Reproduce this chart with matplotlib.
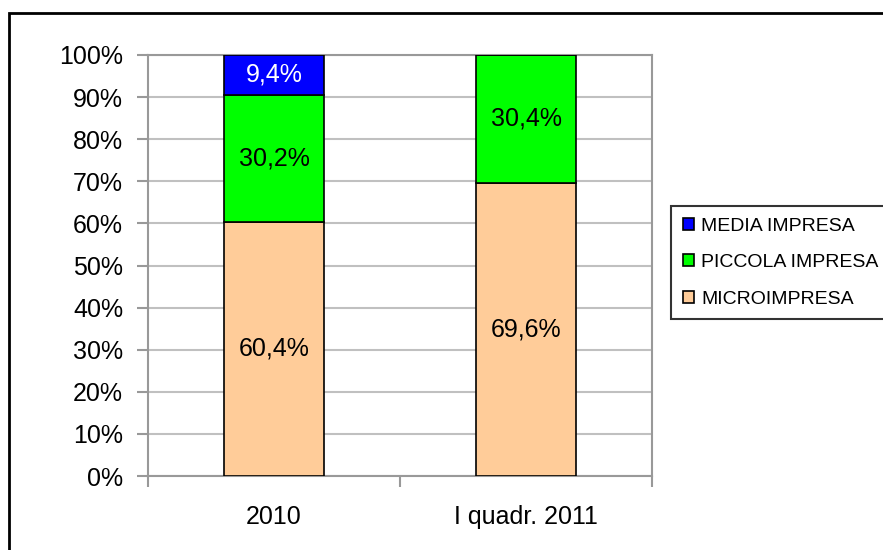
import matplotlib
matplotlib.use("Agg")
import matplotlib.pyplot as plt
import matplotlib.patches as mpatches
import numpy as np

plt.rcParams["font.family"] = ["Liberation Sans", "DejaVu Sans"]

# --------------------------------------------------------------------------- #
#  Data
# --------------------------------------------------------------------------- #
categories = ["2010", "I quadr. 2011"]
series_names = ["MICROIMPRESA", "PICCOLA IMPRESA", "MEDIA IMPRESA"]
micro = [60.4, 69.6]
piccola = [30.2, 30.4]
media = [9.4, 0.0]
y_ticks = [0, 10, 20, 30, 40, 50, 60, 70, 80, 90, 100]

COLORS = {
    "MICROIMPRESA": "#FFCC99",
    "PICCOLA IMPRESA": "#00FF00",
    "MEDIA IMPRESA": "#0000FF",
}
LABEL_COLORS = {
    "MICROIMPRESA": "black",
    "PICCOLA IMPRESA": "black",
    "MEDIA IMPRESA": "white",
}

W, H = 883, 550
fig = plt.figure(figsize=(W / 100, H / 100), dpi=100)
ax = fig.add_axes([148 / W, 1 - 476 / H, (652 - 148) / W, (476 - 55) / H])

# outer chart frame (runs off the right and bottom edges)
fig.patches.append(mpatches.Rectangle(
    (9 / W, -0.1), 1.2, 1 - 13 / H + 0.1, transform=fig.transFigure,
    fill=False, edgecolor="black", linewidth=2, zorder=0))

x = np.arange(len(categories))
bottom = np.zeros(len(categories))
handles = {}
for name, vals in zip(series_names, [micro, piccola, media]):
    vals = np.array(vals)
    bars = ax.bar(x, vals, bottom=bottom, width=0.4, color=COLORS[name],
                  edgecolor="black", linewidth=1.2, zorder=3)
    handles[name] = bars
    for xi, b, v in zip(x, bottom, vals):
        if v > 0:
            ax.text(xi, b + v / 2, f"{v:.1f}%".replace(".", ","),
                    ha="center", va="center", fontsize=18,
                    color=LABEL_COLORS[name], zorder=4)
    bottom += vals

ax.set_xlim(-0.5, 1.5)
ax.set_ylim(0, 100)
ax.set_yticks(y_ticks)
ax.set_yticklabels([f"{t}%" for t in y_ticks], fontsize=18)
ax.yaxis.grid(True, color="#C0C0C0", linewidth=1.5, zorder=0)
ax.set_axisbelow(True)

# category ticks at the boundaries, labels in the middle
ax.set_xticks([-0.5, 0.5, 1.5])
ax.set_xticklabels([])
ax.set_xticks(x, minor=True)
ax.set_xticklabels(categories, minor=True, fontsize=18)
ax.tick_params(axis="x", which="minor", length=0, pad=21)
ax.tick_params(axis="x", which="major", length=8, width=1.5, color="#999999")
ax.tick_params(axis="y", length=8, width=1.5, color="#999999", pad=10)

for s in ax.spines.values():
    s.set_color("#999999")
    s.set_linewidth(1.5)

leg_order = ["MEDIA IMPRESA", "PICCOLA IMPRESA", "MICROIMPRESA"]
leg = fig.legend([handles[n] for n in leg_order], leg_order,
                 loc="upper left", bbox_to_anchor=(671 / W, 1 - 206 / H),
                 fontsize=14, frameon=True, fancybox=False,
                 handlelength=0.6, handleheight=0.6, handletextpad=0.35,
                 labelspacing=1.0, borderpad=0.6, borderaxespad=0)
leg.get_frame().set_edgecolor("black")
leg.get_frame().set_linewidth(1.5)

fig.savefig("out.png", dpi=100)
